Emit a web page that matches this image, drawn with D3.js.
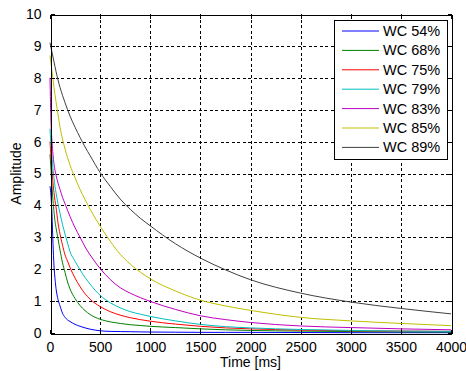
<!DOCTYPE html>
<html>
<head>
<meta charset="utf-8">
<script src="https://cdn.jsdelivr.net/npm/d3@7"></script>
<style>
  html, body { margin: 0; padding: 0; background: #fff; }
  svg text { font-family: "Liberation Sans", Arial, Helvetica, sans-serif; }
</style>
</head>
<body>
<div id="vis-tag"></div>
<script>
// sample times (ms) and amplitude per water content
const times = [0, 10, 20, 30, 40, 50, 60, 80, 100, 125, 150, 175, 200, 250, 300, 350, 400,
  500, 600, 700, 800, 900, 1000, 1250, 1500, 1750, 2000, 2500, 3000, 3500, 4000];

const wc54 = [4.6, 4.3, 3.7, 2.8, 2.1, 1.7, 1.4, 1.05, 0.85, 0.62, 0.49, 0.41, 0.36, 0.27, 0.21, 0.16, 0.12,
  0.07, 0.05, 0.045, 0.04, 0.035, 0.03, 0.025, 0.02, 0.02, 0.02, 0.015, 0.01, 0.01, 0.01];
const wc68 = [5.6, 5.1, 4.6, 4.15, 3.8, 3.5, 3.3, 2.95, 2.6, 2.2, 1.9, 1.6, 1.38, 1.08, 0.86, 0.7, 0.58,
  0.43, 0.35, 0.3, 0.26, 0.235, 0.21, 0.17, 0.13, 0.1, 0.08, 0.06, 0.045, 0.035, 0.03];
const wc75 = [6.0, 5.5, 5.1, 4.7, 4.4, 4.15, 3.95, 3.45, 3.1, 2.75, 2.45, 2.25, 2.05, 1.72, 1.45, 1.23, 1.06,
  0.83, 0.67, 0.56, 0.48, 0.42, 0.37, 0.28, 0.21, 0.16, 0.13, 0.09, 0.07, 0.06, 0.05];
const wc79 = [6.4, 5.9, 5.5, 5.15, 4.85, 4.6, 4.4, 4.05, 3.75, 3.4, 3.1, 2.82, 2.55, 2.25, 1.98, 1.74, 1.53,
  1.18, 0.95, 0.79, 0.67, 0.59, 0.52, 0.38, 0.27, 0.2, 0.16, 0.11, 0.08, 0.06, 0.05];
const wc83 = [8.0, 6.6, 6.0, 5.6, 5.3, 5.1, 4.95, 4.7, 4.5, 4.25, 4.05, 3.85, 3.65, 3.3, 3.0, 2.7, 2.45,
  2.02, 1.68, 1.42, 1.25, 1.11, 0.99, 0.74, 0.54, 0.42, 0.33, 0.22, 0.17, 0.13, 0.1];
const wc85 = [8.7, 8.45, 8.2, 7.95, 7.7, 7.47, 7.25, 6.85, 6.45, 6.08, 5.77, 5.5, 5.26, 4.86, 4.5, 4.18, 3.88,
  3.35, 2.88, 2.47, 2.16, 1.91, 1.7, 1.32, 1.03, 0.85, 0.71, 0.49, 0.38, 0.3, 0.23];
const wc89 = [9.1, 8.95, 8.8, 8.65, 8.5, 8.35, 8.2, 7.93, 7.7, 7.45, 7.22, 7.0, 6.8, 6.45, 6.13, 5.83, 5.56,
  5.03, 4.6, 4.2, 3.88, 3.6, 3.36, 2.8, 2.35, 1.98, 1.67, 1.25, 0.97, 0.77, 0.6];

const seriesNames = ["WC 54%", "WC 68%", "WC 75%", "WC 79%", "WC 83%", "WC 85%", "WC 89%"];
const seriesValues = [wc54, wc68, wc75, wc79, wc83, wc85, wc89];
const seriesColors = ["#0000ff", "#008000", "#ff0000", "#00bfbf", "#bf00bf", "#bfbf00", "#404040"];

const xTicks = [0, 500, 1000, 1500, 2000, 2500, 3000, 3500, 4000];
const yTicks = [0, 1, 2, 3, 4, 5, 6, 7, 8, 9, 10];

const width = 466;
const height = 371;
const margin = { top: 14, right: 15, bottom: 38, left: 50 };

const svg = d3.select("#vis-tag")
  .append("svg")
  .attr("width", width)
  .attr("height", height);

const x = d3.scaleLinear().domain([0, 4000]).range([margin.left, width - margin.right]);
const y = d3.scaleLinear().domain([0, 10]).range([height - margin.bottom, margin.top]);

const x0 = margin.left, x1 = width - margin.right;
const y0 = height - margin.bottom, y1 = margin.top;

// grid (dashed)
const grid = svg.append("g")
  .attr("stroke", "#000")
  .attr("stroke-width", 1)
  .attr("stroke-dasharray", "3,2.5")
  .attr("shape-rendering", "crispEdges");
grid.selectAll(".gx")
  .data(xTicks.slice(1, -1))
  .enter().append("line")
  .attr("x1", d => Math.round(x(d)) + 0.5).attr("x2", d => Math.round(x(d)) + 0.5)
  .attr("y1", y1).attr("y2", y0);
grid.selectAll(".gy")
  .data(yTicks.slice(1, -1))
  .enter().append("line")
  .attr("y1", d => Math.round(y(d)) + 0.5).attr("y2", d => Math.round(y(d)) + 0.5)
  .attr("x1", x0).attr("x2", x1);

// curves
const line = d3.line()
  .x((d, i) => x(times[i]))
  .y(d => y(d))
  .curve(d3.curveMonotoneX);

svg.append("g")
  .selectAll("path")
  .data(seriesValues)
  .enter().append("path")
  .attr("d", d => line(d))
  .attr("fill", "none")
  .attr("stroke", (d, i) => seriesColors[i])
  .attr("stroke-width", 1);

// axes: bottom/left with labels, top/right plain, ticks inward
const fmt = d3.format("d");
svg.append("g")
  .attr("transform", `translate(0, ${y0 + 0.5})`)
  .call(d3.axisBottom(x).tickValues(xTicks).tickSizeInner(-4).tickSizeOuter(0).tickPadding(9).tickFormat(fmt))
  .call(g => g.selectAll("text").attr("font-size", 14).attr("fill", "#000"));
svg.append("g")
  .attr("transform", `translate(0, ${y1 + 0.5})`)
  .call(d3.axisTop(x).tickValues(xTicks).tickSizeInner(-4).tickSizeOuter(0).tickFormat(""));
svg.append("g")
  .attr("transform", `translate(${x0 + 0.5}, 0)`)
  .call(d3.axisLeft(y).tickValues(yTicks).tickSizeInner(-4).tickSizeOuter(0).tickPadding(9).tickFormat(fmt))
  .call(g => g.selectAll("text").attr("font-size", 14).attr("fill", "#000"));
svg.append("g")
  .attr("transform", `translate(${x1 + 0.5}, 0)`)
  .call(d3.axisRight(y).tickValues(yTicks).tickSizeInner(-4).tickSizeOuter(0).tickFormat(""));
svg.selectAll(".domain").attr("stroke", "#000").attr("shape-rendering", "crispEdges");
svg.selectAll(".tick line").attr("stroke", "#000").attr("shape-rendering", "crispEdges");

// axis titles
svg.append("text")
  .attr("x", (x0 + x1) / 2)
  .attr("y", 367)
  .attr("text-anchor", "middle")
  .attr("font-size", 14)
  .text("Time [ms]");
svg.append("text")
  .attr("transform", `translate(21, ${(y0 + y1) / 2}) rotate(-90)`)
  .attr("text-anchor", "middle")
  .attr("font-size", 14)
  .text("Amplitude");

// legend
const lg = svg.append("g").attr("transform", "translate(334, 20)");
lg.append("rect")
  .attr("x", 0.5).attr("y", 0.5)
  .attr("width", 113).attr("height", 139)
  .attr("fill", "#fff")
  .attr("stroke", "#000")
  .attr("shape-rendering", "crispEdges");
const rows = lg.selectAll(".row")
  .data(seriesNames)
  .enter().append("g")
  .attr("transform", (d, i) => `translate(0, ${11 + i * 19.4})`);
rows.append("line")
  .attr("x1", 8).attr("x2", 45)
  .attr("y1", 0).attr("y2", 0)
  .attr("stroke", (d, i) => seriesColors[i])
  .attr("stroke-width", 1);
rows.append("text")
  .attr("x", 49)
  .attr("y", 5)
  .attr("font-size", 14.5)
  .text(d => d);
</script>
</body>
</html>
